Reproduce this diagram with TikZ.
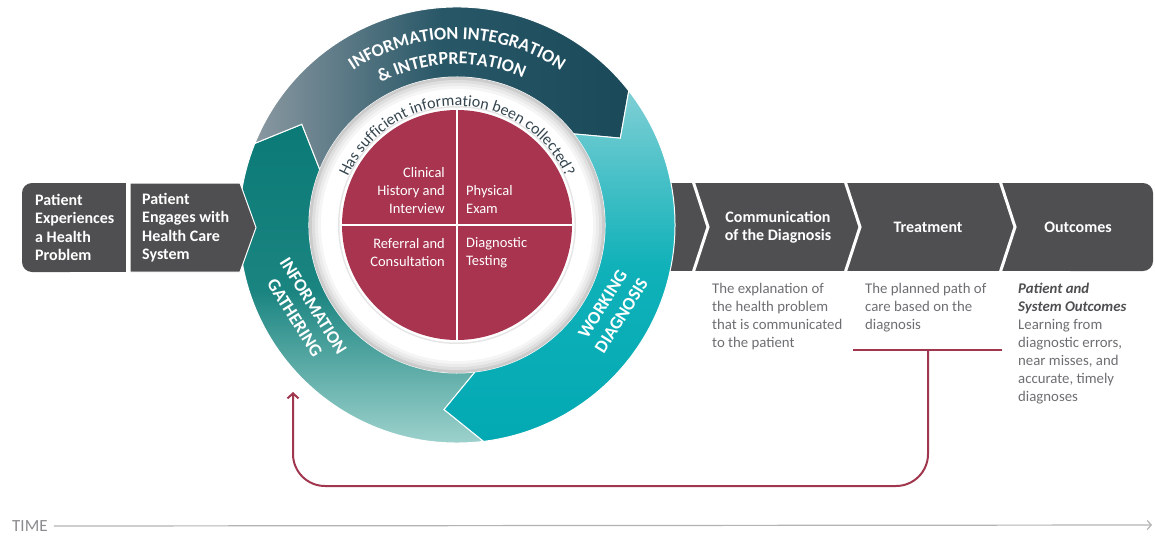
\documentclass[tikz,border=0pt]{standalone}
\usepackage{fontspec}
\setmainfont{Carlito}
\usetikzlibrary{decorations.text,positioning,arrows.meta}

\definecolor{bandGrey}{HTML}{4F4F51}
\definecolor{noteGrey}{HTML}{6D6E71}
\definecolor{diagRed}{HTML}{A8344F}
\definecolor{loopRed}{HTML}{A0374F}
\definecolor{tealDark}{HTML}{0B7A77}
\definecolor{tealMid}{HTML}{1A8480}
\definecolor{tealLight}{HTML}{A8D8D3}
\definecolor{slateLight}{HTML}{8A98A1}
\definecolor{slateMid}{HTML}{285767}
\definecolor{slateDark}{HTML}{1A4A5A}
\definecolor{cyanLight}{HTML}{7FCFD5}
\definecolor{cyanMid}{HTML}{10B1B9}
\definecolor{cyanDark}{HTML}{02A9B3}
\definecolor{questionInk}{HTML}{34454F}
\definecolor{timeGrey}{HTML}{B3B3B3}

\tikzset{
	box title/.style={
		text=white,
		font=\bfseries\fontsize{16}{18}\selectfont,
		align=center
	},
	box text/.style={
		text=white,
		font=\bfseries\fontsize{16}{18.5}\selectfont,
		align=left,
		anchor=west,
		inner sep=0pt
	},
	note text/.style={
		text=noteGrey,
		font=\fontsize{14.8}{18}\selectfont,
		align=left,
		anchor=north west,
		inner sep=0pt
	},
	quarter text/.style={
		text=white,
		font=\fontsize{14.5}{18}\selectfont,
		inner sep=0pt
	},
	ring label/.style={
		text=white,
		font=\bfseries\fontsize{18}{22}\selectfont,
		align=center
	},
	separator/.style={
		draw=white,
		line width=3pt
	},
	feedback/.style={
		draw=loopRed,
		line width=2pt
	},
	timeline/.style={
		draw=timeGrey,
		line width=1.2pt
	},
}

\begin{document}
\begin{tikzpicture}[x=1pt,y=1pt]
\useasboundingbox (0,0) rectangle (1155,-538);

% grey band on the right, partly behind the wheel
\fill[bandGrey] (640,-183) rectangle (1110,-271);
\fill[bandGrey, rounded corners=10] (1060,-183) rectangle (1153,-271);
\foreach \x in {693,845,1000}
	\draw[separator] (\x,-181) -- (\x+15,-227) -- (\x,-273);

% the wheel
\begin{scope}[shift={(457,-225)}]
	% information gathering
	\shadedraw[top color=tealDark, bottom color=tealLight, middle color=tealMid, draw=white, line width=1pt]
		(-83:218) arc[start angle=-83, end angle=-202, radius=218] -- (-213:185) -- (-202:148)
		arc[start angle=-202, end angle=-83, radius=148] -- (-94:185) -- cycle;
	% integration and interpretation
	\shadedraw[left color=slateLight, right color=slateDark, middle color=slateMid, draw=white, line width=1pt]
		(158:218) arc[start angle=158, end angle=38, radius=218] -- (28:185) -- (38:148)
		arc[start angle=38, end angle=158, radius=148] -- (147:185) -- cycle;
	% working diagnosis
	\shadedraw[top color=cyanLight, bottom color=cyanDark, middle color=cyanMid, draw=white, line width=1pt]
		(38:218) arc[start angle=38, end angle=-83, radius=218] -- (-94:185) -- (-83:148)
		arc[start angle=-83, end angle=38, radius=148] -- (28:185) -- cycle;

	% white plate with a soft rim
	\foreach \r/\s in {148/20,145/13,142/8,139/4,136/0}
		\fill[black!\s] (0,0) circle (\r);
	\fill[black!10] (0,0) circle (119);
	\fill[white] (0,0) circle (117.5);
	\fill[diagRed] (0,0) circle (115);
	\draw[white, line width=1.2pt] (-115,0) -- (115,0) (0,115) -- (0,-115);

	% curved labels
	\path[decorate, decoration={text along path, text align=center, text color=white,
		text={|\bfseries\fontsize{18}{18}\selectfont|INFORMATION INTEGRATION}}]
		(170:186) arc[start angle=170, end angle=10, radius=186];
	\path[decorate, decoration={text along path, text align=center, text color=white,
		text={|\bfseries\fontsize{18}{18}\selectfont|{\&} INTERPRETATION}}]
		(172:161) arc[start angle=172, end angle=12, radius=161];
	\path[decorate, decoration={text along path, text align=center, text color=questionInk,
		text={|\fontsize{16}{16}\selectfont|Has sufficient information been collected?}}]
		(178:119) arc[start angle=178, end angle=2, radius=119];
\end{scope}

\node[ring label, rotate=-58] (gathering) at (304,-312) {INFORMATION\\GATHERING};
\node[ring label, rotate=58] (working) at (612,-310) {WORKING\\DIAGNOSIS};

\node[quarter text, align=right, anchor=east] (history) at (445,-191) {Clinical\\History and\\Interview};
\node[quarter text, align=left, anchor=west] (exam) at (466,-200) {Physical\\Exam};
\node[quarter text, align=right, anchor=east] (referral) at (445,-253) {Referral and\\Consultation};
\node[quarter text, align=left, anchor=west] (testing) at (466,-253) {Diagnostic\\Testing};

% grey band on the left, over the wheel
\fill[bandGrey, rounded corners=10] (22,-183) rectangle (80,-272);
\fill[bandGrey] (60,-183) rectangle (126,-272);
\filldraw[fill=bandGrey, draw=white, line width=1pt]
	(130,-183) -- (240,-183) -- (256,-227.5) -- (240,-272) -- (130,-272) -- cycle;

\node[box text] (problem) at (35,-227.5) {Patient\\Experiences\\a Health\\Problem};
\node[box text] (engages) at (142,-227.5) {Patient\\Engages with\\Health Care\\System};

\node[box title] (communication) at (778,-227) {Communication\\of the Diagnosis};
\node[box title] (treatment) at (928,-227) {Treatment};
\node[box title] (outcomes) at (1078,-227) {Outcomes};

\node[note text] (explanation) at (712,-283) {The explanation of\\the health problem\\that is communicated\\to the patient};
\node[note text] (plannedpath) at (865,-283) {The planned path of\\care based on the\\diagnosis};
\node[note text] (learning) at (1018,-283) {\textcolor{bandGrey}{\bfseries\itshape Patient and}\\\textcolor{bandGrey}{\bfseries\itshape System Outcomes}\\Learning from\\diagnostic errors,\\near misses, and\\accurate, timely\\diagnoses};

% feedback loop back to information gathering
\coordinate (bar left) at (853,-350);
\coordinate (bar right) at (1002,-350);
\coordinate (loop start) at (928,-350);
\coordinate (loop base) at (610,-486);
\coordinate (loop end) at (293,-392);
\draw[feedback] (bar left) -- (bar right);
\draw[feedback, rounded corners=32, -{Straight Barb[length=5pt, width=11pt]}] (loop start) |- (loop base) -| (loop end);

% time axis
\node[text=noteGrey!80, font=\fontsize{17}{17}\selectfont, inner sep=0pt, anchor=west] (time) at (12,-526) {TIME};
\coordinate (time end) at (1152,-525);
\draw[timeline, -{Straight Barb[length=4pt, width=9pt]}] ([xshift=6pt]time.east) -- (time end);
\end{tikzpicture}
\end{document}
